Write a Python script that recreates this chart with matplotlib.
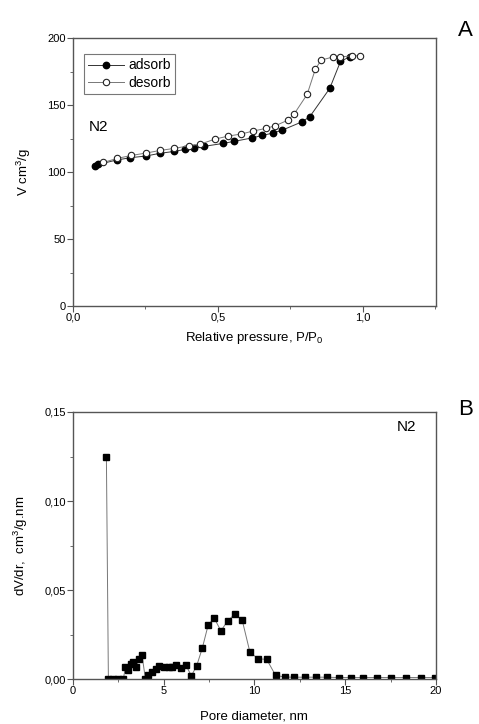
import numpy as np
import matplotlib
matplotlib.use('Agg')
import matplotlib.pyplot as plt
from matplotlib.ticker import FuncFormatter, MultipleLocator

plt.rcParams['font.family'] = ['Liberation Sans', 'DejaVu Sans']

# isotherm, N2
p_ads = [0.076, 0.087, 0.151, 0.197, 0.252, 0.300, 0.348, 0.386, 0.418, 0.452,
         0.518, 0.555, 0.618, 0.654, 0.689, 0.722, 0.790, 0.817, 0.886, 0.923, 0.955]
v_ads = [104.5, 105.7, 109.0, 110.7, 112.0, 114.0, 115.4, 116.9, 117.7, 119.2,
         121.4, 122.9, 125.5, 127.4, 129.1, 131.3, 137.5, 141.3, 162.5, 182.6, 186.1]
p_des = [0.105, 0.153, 0.201, 0.252, 0.302, 0.350, 0.400, 0.440, 0.490, 0.536,
         0.580, 0.621, 0.665, 0.698, 0.742, 0.763, 0.808, 0.836, 0.856, 0.898,
         0.921, 0.964, 0.990]
v_des = [107.2, 110.2, 112.4, 114.2, 116.2, 117.7, 119.6, 120.9, 124.6, 126.9,
         128.4, 130.6, 132.6, 134.6, 138.8, 143.3, 158.0, 176.6, 183.6, 186.0,
         186.0, 186.8, 186.8]

# pore size distribution
d_pore = [1.85, 1.96, 2.23, 2.51, 2.78, 2.90, 3.03, 3.19, 3.34, 3.48, 3.63, 3.81,
          4.00, 4.16, 4.36, 4.57, 4.77, 5.04, 5.30, 5.46, 5.70, 5.94, 6.24, 6.53,
          6.82, 7.13, 7.46, 7.79, 8.16, 8.53, 8.93, 9.33, 9.76, 10.22, 10.68,
          11.17, 11.67, 12.20, 12.79, 13.39, 13.99, 14.64, 15.30, 16.00, 16.73,
          17.52, 18.33, 19.17, 19.96]
dvdr = [0.1247, 0.0, 0.0, 0.0, 0.0, 0.0067, 0.0052, 0.0086, 0.0095, 0.0071, 0.0112, 0.0136,
        0.0003, 0.0024, 0.0043, 0.0056, 0.0075, 0.0071, 0.0071, 0.0067, 0.0078, 0.0062,
        0.0078, 0.0020, 0.0075, 0.0174, 0.0306, 0.0343, 0.0272, 0.0328, 0.0366,
        0.0332, 0.0151, 0.0115, 0.0112, 0.0022, 0.0013, 0.0012, 0.0012, 0.0012,
        0.0012, 0.0010, 0.0010, 0.0010, 0.0010, 0.0010, 0.0010, 0.0010, 0.0010]

comma = lambda nd: FuncFormatter(lambda v, pos: ('{:.%df}' % nd).format(v).replace('.', ','))

fig = plt.figure(figsize=(4.79, 7.24), dpi=100)

def style(ax):
    for s in ax.spines.values():
        s.set_color('#555555')
        s.set_linewidth(1.0)
    ax.tick_params(which='major', direction='out', length=4, width=0.8, color='#555555',
                   labelsize=8, pad=1)
    ax.tick_params(which='minor', direction='out', length=2, width=0.6, color='#555555')

# panel A
ax1 = fig.add_axes([0.152, 0.5773, 0.758, 0.370])
ax1.plot(p_ads, v_ads, '-o', color='#333333', lw=0.7, ms=4.6, mfc='black', mec='black',
         label='adsorb')
ax1.plot(p_des, v_des, '-o', color='#777777', lw=0.7, ms=4.6, mfc='white', mec='#222222',
         mew=0.8, label='desorb')
ax1.set_xlim(0, 1.252)
ax1.set_ylim(0, 200)
ax1.xaxis.set_major_locator(MultipleLocator(0.5))
ax1.xaxis.set_minor_locator(MultipleLocator(0.25))
ax1.yaxis.set_major_locator(MultipleLocator(50))
ax1.yaxis.set_minor_locator(MultipleLocator(25))
ax1.xaxis.set_major_formatter(comma(1))
style(ax1)
ax1.set_xlabel('Relative pressure, P/P$_\\mathregular{0}$', fontsize=9.5, labelpad=5)
ax1.set_ylabel('V cm$^\\mathregular{3}$/g', fontsize=9.5, labelpad=10)
leg = ax1.legend(loc='upper left', bbox_to_anchor=(0.03, 0.94), fontsize=10,
                 fancybox=False, framealpha=1, edgecolor='#777777', handlelength=2.6,
                 handletextpad=0.3, borderpad=0.3, labelspacing=0.25, borderaxespad=0)
leg.get_frame().set_linewidth(0.8)
ax1.text(0.045, 0.655, 'N2', transform=ax1.transAxes, fontsize=11)
fig.text(0.972, 0.958, 'A', fontsize=16, ha='center', va='center')

# panel B
ax2 = fig.add_axes([0.152, 0.0617, 0.758, 0.3693])
ax2.plot(d_pore, dvdr, '-s', color='#777777', lw=0.7, ms=4.2, mfc='black', mec='black')
ax2.set_xlim(0, 20)
ax2.set_ylim(0, 0.15)
ax2.xaxis.set_major_locator(MultipleLocator(5))
ax2.xaxis.set_minor_locator(MultipleLocator(2.5))
ax2.yaxis.set_major_locator(MultipleLocator(0.05))
ax2.yaxis.set_minor_locator(MultipleLocator(0.025))
ax2.yaxis.set_major_formatter(comma(2))
style(ax2)
ax2.set_xlabel('Pore diameter, nm', fontsize=9.5, labelpad=10)
ax2.set_ylabel('dV/dr,  cm$^\\mathregular{3}$/g.nm', fontsize=9.5, labelpad=10)
ax2.text(0.945, 0.93, 'N2', transform=ax2.transAxes, fontsize=11, ha='right')
fig.text(0.972, 0.435, 'B', fontsize=16, ha='center', va='center')

plt.savefig('out.png', dpi=100)
